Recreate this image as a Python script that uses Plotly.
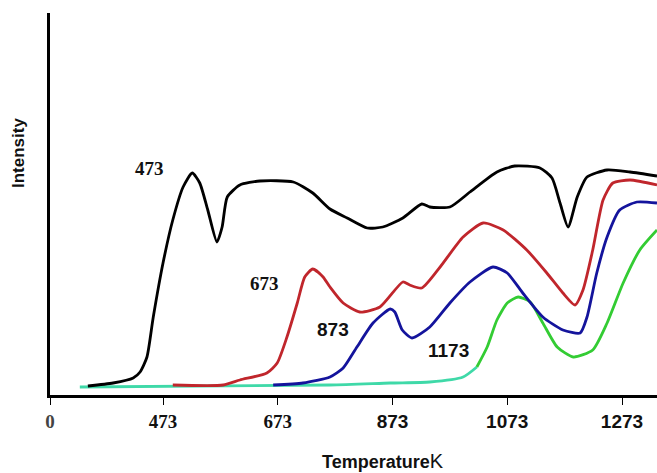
import plotly.graph_objects as go

# ---- data (temperature in K, intensity in arbitrary units) ----
k_473 = [342, 386, 421, 433, 445, 456, 473, 490, 508, 524, 537, 551, 567, 576, 585, 607, 642, 700,
         734, 764, 794, 829, 856, 891, 924, 938, 973, 1008, 1055, 1086, 1130, 1151, 1165, 1179,
         1195, 1212, 1247, 1287, 1334]
i_473 = [9, 12, 17, 23, 38, 78, 132, 175, 208, 222, 212, 185, 153, 168, 198, 210, 214, 213,
         202, 186, 177, 167, 168, 177, 191, 188, 188, 203, 223, 229, 227, 217, 192, 168,
         198, 218, 225, 223, 219]

k_673 = [490, 578, 607, 654, 672, 689, 707, 720, 734, 752, 764, 787, 816, 851, 891, 903, 924,
         956, 996, 1031, 1066, 1107, 1142, 1170, 1191, 1205, 1222, 1240, 1257, 1287, 1334]
i_673 = [10, 10, 15, 22, 32, 58, 92, 118, 126, 118, 108, 92, 83, 88, 113, 110, 107,
         128, 158, 172, 165, 145, 122, 102, 90, 105, 145, 195, 212, 215, 210]

k_873 = [665, 717, 764, 787, 811, 839, 869, 877, 890, 907, 938, 973, 1008, 1048, 1073, 1100,
         1135, 1170, 1200, 1212, 1229, 1247, 1269, 1299, 1334]
i_873 = [10, 12, 18, 27, 48, 72, 86, 83, 65, 57, 68, 92, 113, 128, 122, 102,
         78, 65, 62, 78, 122, 158, 185, 193, 192]

k_1173_base = [328, 764, 869, 938, 996, 1020]
i_1173_base = [8, 10, 12, 13, 18, 28]
k_1173 = [1020, 1038, 1055, 1073, 1092, 1113, 1135, 1160, 1188, 1222, 1247, 1275, 1304, 1334]
i_1173 = [28, 48, 75, 92, 98, 93, 72, 48, 38, 45, 72, 112, 145, 165]

tick_vals = [276, 473, 673, 873, 1073, 1273]
tick_text = ["0", "473", "673", "873", "1073", "1273"]
serif_ticks = {"0", "473", "673"}

labels = ["473", "673", "873", "1173"]
label_k = [450, 649, 769, 970]
label_i = [227, 112, 66, 45]

SERIF = "Liberation Serif, Times New Roman, serif"
SANS = "Liberation Sans, Arial, sans-serif"

fig = go.Figure()
line_kw = dict(shape="spline", smoothing=0.6)
fig.add_trace(go.Scatter(x=k_1173_base, y=i_1173_base, mode="lines",
                         line=dict(color="#3fd9a8", width=2.8, **line_kw), hoverinfo="skip"))
fig.add_trace(go.Scatter(x=k_1173, y=i_1173, mode="lines",
                         line=dict(color="#33cc33", width=2.8, **line_kw)))
fig.add_trace(go.Scatter(x=k_873, y=i_873, mode="lines",
                         line=dict(color="#14149c", width=2.8, **line_kw)))
fig.add_trace(go.Scatter(x=k_673, y=i_673, mode="lines",
                         line=dict(color="#c0262c", width=2.8, **line_kw)))
fig.add_trace(go.Scatter(x=k_473, y=i_473, mode="lines",
                         line=dict(color="#000000", width=2.8, **line_kw)))

ticktext_fmt = []
for t in tick_text:
    if t == "0":
        ticktext_fmt.append("<span style='font-family:Liberation Serif;color:#444'><b>0</b></span>")
    elif t in serif_ticks:
        ticktext_fmt.append(f"<span style='font-family:Liberation Serif'><b>{t}</b></span>")
    else:
        ticktext_fmt.append(f"<b>{t}</b>")

for lab, kx, iy in zip(labels, label_k, label_i):
    fam = SERIF if lab in ("473", "673") else SANS
    fig.add_annotation(x=kx, y=iy, text=f"<b>{lab}</b>", showarrow=False,
                       font=dict(family=fam, size=19, color="#111"))

fig.add_annotation(xref="paper", yref="paper", x=(383 - 50) / 607, y=-(461 - 395) / 382,
                   text="<b>Temperature</b><span style='font-size:20px'>K</span>",
                   showarrow=False, font=dict(family=SANS, size=18, color="#111"),
                   xanchor="center", yanchor="middle")
fig.add_annotation(xref="paper", yref="paper", x=-(50 - 18) / 607, y=(395 - 153) / 382,
                   text="<b>Intensity</b>", textangle=-90, showarrow=False,
                   font=dict(family=SANS, size=17, color="#111"),
                   xanchor="center", yanchor="middle")

fig.update_layout(
    width=657, height=473,
    margin=dict(l=50, r=0, t=13, b=78),
    paper_bgcolor="white", plot_bgcolor="white",
    showlegend=False,
    xaxis=dict(range=[276, 1334], tickmode="array", tickvals=tick_vals, ticktext=ticktext_fmt,
               showgrid=False, zeroline=False, showline=True, linecolor="black", linewidth=2.5,
               ticks="outside", ticklen=7, tickcolor="black", tickwidth=1,
               tickfont=dict(family=SANS, size=19, color="#111")),
    yaxis=dict(range=[0, 382], showgrid=False, zeroline=False, showline=True,
               linecolor="black", linewidth=2.5, showticklabels=False, ticks=""),
)

fig.write_html("out.html", config={"displayModeBar": False},
               post_script="document.body.style.margin='0';document.body.style.overflow='hidden';")
